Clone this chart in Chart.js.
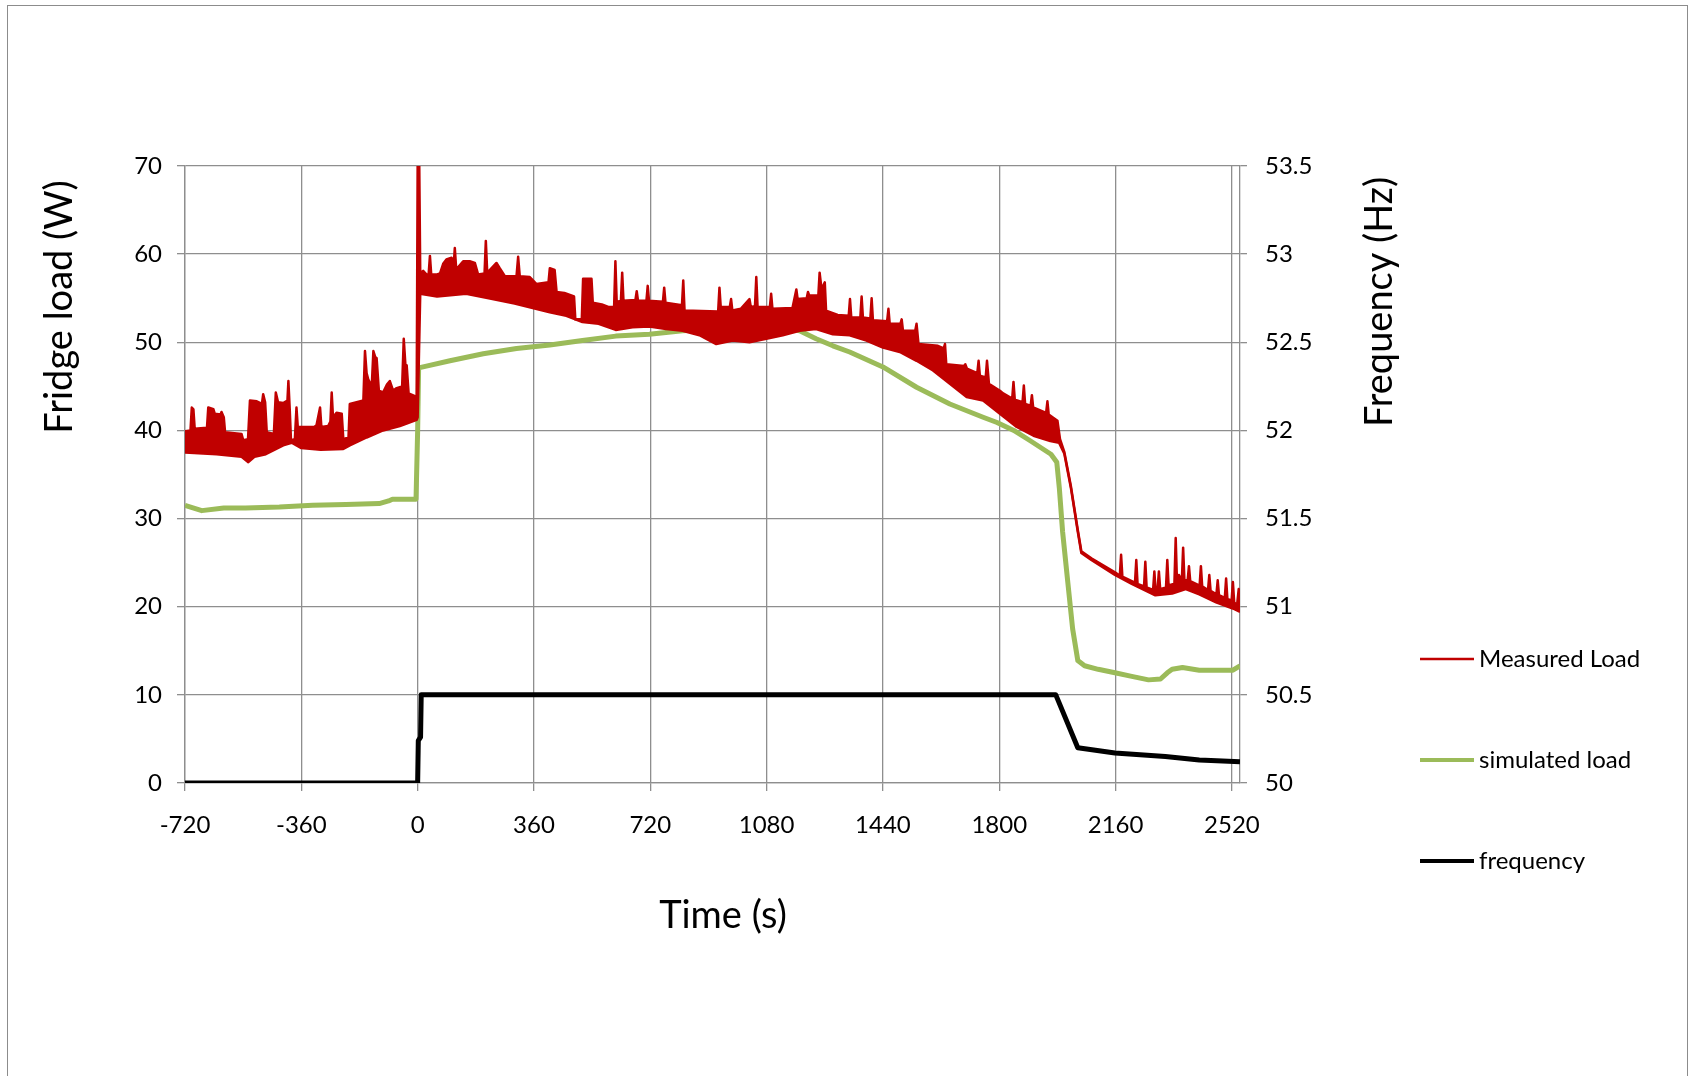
<!DOCTYPE html>
<html>
<head>
<meta charset="utf-8">
<title>Fridge load and frequency</title>
<script src="https://cdn.jsdelivr.net/npm/chart.js@4.4.1/dist/chart.umd.min.js"></script>
<style>
  html, body { margin: 0; padding: 0; background: #fff; }
  canvas { display: block; }
</style>
</head>
<body>
<canvas id="fridgeChart" width="1692" height="1076"></canvas>
<script>
// Axis ticks
const timeTicks = [-720, -360, 0, 360, 720, 1080, 1440, 1800, 2160, 2520];
const loadTicks = [0, 10, 20, 30, 40, 50, 60, 70];
const freqTicks = [50, 50.5, 51, 51.5, 52, 52.5, 53, 53.5];

const xTitle = 'Time (s)';
const yTitle = 'Fridge load (W)';
const y1Title = 'Frequency (Hz)';

// Measured load: top of the noisy band (with spikes), [time s, W]
const measuredUpper = [
  [-720, 39.9], [-703, 40.0], [-699, 42.6], [-694, 42.4], [-690, 40.2], [-652, 40.3], [-648, 42.6],
  [-632, 42.4], [-628, 41.9], [-610, 41.8], [-607, 42.1], [-600, 41.5], [-596, 39.8], [-545, 39.6],
  [-540, 38.9], [-525, 39.0], [-519, 43.4], [-498, 43.3], [-482, 43.0], [-478, 44.1], [-472, 43.2],
  [-467, 39.8], [-445, 39.6], [-439, 44.3], [-432, 43.2], [-416, 43.1], [-403, 43.4], [-400, 45.6],
  [-396, 42.5], [-392, 38.9], [-380, 39.0], [-375, 42.6], [-371, 40.4], [-320, 40.4], [-313, 40.6],
  [-302, 42.6], [-298, 40.4], [-277, 40.5], [-270, 41.0], [-266, 44.3], [-262, 41.5], [-251, 42.0],
  [-235, 41.9], [-230, 39.0], [-214, 39.2], [-210, 43.0], [-168, 43.4], [-163, 49.0], [-158, 46.5],
  [-153, 45.8], [-142, 45.0], [-137, 49.0], [-131, 48.3], [-127, 48.2], [-120, 44.5], [-107, 44.3],
  [-95, 45.2], [-86, 45.6], [-76, 44.5], [-65, 44.8], [-48, 45.0], [-43, 50.4], [-38, 47.5],
  [-34, 47.4], [-28, 44.2], [-3, 43.8], [0, 70], [5, 70], [8, 57.8],
  [17, 58.1], [27, 57.7], [34, 57.7], [38, 59.8], [42, 57.7], [60, 57.7], [69, 57.8], [79, 58.9],
  [89, 59.4], [105, 59.6], [112, 59.0], [115, 60.7], [119, 58.5], [125, 58.5], [141, 59.2],
  [161, 59.2], [177, 59.0], [187, 57.7], [207, 57.8], [211, 61.5], [215, 58.2], [218, 58.0],
  [244, 59.0], [254, 58.4], [270, 57.5], [306, 57.5], [311, 59.7], [316, 57.5], [347, 57.4],
  [368, 56.6], [405, 56.8], [409, 58.4], [424, 58.2], [430, 55.7], [454, 55.6], [484, 55.2],
  [488, 52.6], [508, 52.6], [512, 57.2], [538, 57.2], [542, 54.5], [570, 54.3], [590, 54.0],
  [608, 54.0], [612, 59.2], [616, 54.6], [629, 54.7], [633, 57.9], [637, 54.7], [674, 54.8],
  [678, 55.8], [682, 54.7], [708, 54.7], [712, 56.4], [716, 54.7], [759, 54.6], [763, 56.2],
  [767, 54.5], [818, 54.2], [822, 57.0], [826, 53.6], [930, 53.5], [934, 56.2], [938, 54.0],
  [966, 54.0], [970, 54.9], [974, 53.6], [1000, 53.8], [1027, 54.9], [1031, 54.0], [1044, 54.1],
  [1048, 57.4], [1052, 54.0], [1090, 54.0], [1094, 55.5], [1098, 53.8], [1160, 53.9], [1172, 56.0],
  [1176, 54.9], [1204, 55.0], [1208, 55.7], [1212, 55.3], [1240, 55.3], [1244, 57.9], [1250, 56.0],
  [1260, 56.8], [1264, 53.6], [1300, 53.1], [1334, 53.0], [1338, 54.9], [1342, 52.8], [1370, 52.8],
  [1374, 55.2], [1378, 52.8], [1401, 52.7], [1405, 55.0], [1409, 52.5], [1453, 52.4], [1457, 53.8],
  [1461, 52.1], [1494, 52.1], [1498, 52.6], [1502, 51.3], [1540, 51.3], [1544, 52.1], [1550, 49.8],
  [1610, 49.6], [1628, 49.3], [1632, 49.8], [1636, 47.5], [1691, 47.3], [1695, 47.5], [1700, 47.0],
  [1732, 46.5], [1736, 47.9], [1740, 46.2], [1758, 46.0], [1762, 47.9], [1768, 45.3], [1802, 44.5],
  [1812, 44.2], [1840, 43.6], [1844, 45.5], [1848, 43.5], [1872, 43.2], [1876, 45.1], [1880, 43.0],
  [1897, 42.8], [1901, 44.0], [1905, 42.6], [1945, 42.0], [1949, 43.3], [1953, 41.8], [1980, 41.1],
  [1988, 39.0], [2001, 37.6], [2022, 33.6], [2043, 28.7], [2054, 26.3], [2085, 25.5], [2158, 23.9],
  [2173, 23.5], [2177, 25.9], [2181, 23.4], [2210, 22.9], [2220, 22.7], [2224, 25.3], [2228, 22.6],
  [2248, 22.3], [2252, 25.1], [2256, 22.2], [2276, 21.9], [2280, 24.0], [2284, 21.7], [2290, 22.0],
  [2294, 24.0], [2298, 22.0], [2316, 22.2], [2320, 25.3], [2324, 22.4], [2342, 22.6], [2346, 27.8],
  [2350, 22.8], [2356, 23.6], [2365, 22.9], [2369, 26.7], [2373, 23.0], [2383, 23.0], [2387, 24.6],
  [2391, 22.9], [2420, 22.4], [2424, 24.6], [2428, 22.3], [2446, 21.9], [2450, 23.6], [2454, 21.8],
  [2472, 21.4], [2476, 23.0], [2480, 21.3], [2498, 21.0], [2502, 23.2], [2506, 20.9], [2519, 20.7],
  [2523, 22.8], [2527, 20.5], [2536, 20.2], [2541, 22.0], [2545, 19.9]
];

// Measured load: bottom of the noisy band, [time s, W]
const measuredLower = [
  [-720, 37.5], [-622, 37.3], [-545, 37.0], [-524, 36.4], [-505, 37.0], [-470, 37.3], [-416, 38.3],
  [-390, 38.6], [-360, 38.0], [-300, 37.8], [-230, 37.9], [-210, 38.3], [-158, 39.2], [-107, 40.0],
  [-55, 40.5], [-3, 41.2], [0, 41.5], [8, 55.5], [60, 55.2], [150, 55.5], [220, 55.0], [300, 54.4],
  [409, 53.4], [460, 53.0], [510, 52.3], [560, 52.1], [613, 51.4], [665, 51.7], [717, 51.8],
  [769, 51.5], [820, 51.3], [872, 50.8], [924, 49.8], [975, 50.2], [1027, 50.0], [1079, 50.4],
  [1130, 50.8], [1182, 51.3], [1233, 51.5], [1285, 50.9], [1337, 50.8], [1389, 50.2], [1440, 49.4],
  [1492, 48.9], [1544, 47.9], [1595, 46.8], [1647, 45.3], [1699, 43.8], [1750, 43.4], [1802, 41.9],
  [1854, 40.4], [1906, 39.4], [1958, 38.8], [1985, 38.6], [2001, 37.4], [2022, 33.4], [2043, 28.5],
  [2054, 26.1], [2085, 25.3], [2158, 23.6], [2210, 22.6], [2283, 21.3], [2335, 21.5], [2377, 22.0],
  [2419, 21.4], [2471, 20.5], [2523, 19.8], [2545, 19.4]
];

// Simulated load, [time s, W]
const simulatedLoad = [
  [-720, 31.5], [-668, 30.9], [-600, 31.2], [-533, 31.2], [-428, 31.3], [-325, 31.5], [-222, 31.6],
  [-119, 31.7], [-90, 32.0], [-78, 32.2], [-5, 32.2], [0, 40.0], [3, 47.1], [27, 47.3], [100, 47.9],
  [203, 48.7], [306, 49.3], [409, 49.7], [510, 50.2], [613, 50.7], [717, 50.9], [820, 51.3],
  [924, 51.5], [1027, 51.8], [1130, 51.7], [1182, 51.3], [1233, 50.4], [1285, 49.6], [1337, 48.9],
  [1440, 47.2], [1544, 44.9], [1647, 43.0], [1750, 41.5], [1793, 40.9], [1845, 40.0], [1897, 38.8],
  [1960, 37.3], [1978, 36.4], [1986, 33.4], [1996, 28.5], [2012, 22.8], [2027, 17.5], [2043, 13.9],
  [2064, 13.3], [2106, 12.9], [2158, 12.5], [2210, 12.1], [2262, 11.7], [2299, 11.8], [2320, 12.5],
  [2335, 12.9], [2367, 13.1], [2419, 12.8], [2471, 12.8], [2523, 12.8], [2545, 13.3]
];

// Grid frequency, [time s, Hz]
const frequency = [
  [-720, 50], [0, 50], [2, 50.24], [9, 50.26], [11, 50.5], [1975, 50.5], [2043, 50.2],
  [2158, 50.17], [2314, 50.15], [2419, 50.13], [2545, 50.12]
];

const toPoints = arr => arr.map(([x, y]) => ({ x, y }));

const fontFamily = 'Lato, "Open Sans", sans-serif';
const gridColor = '#8e8e8e';
const red = '#C00000';
const green = '#9BBB59';

// titles, legend and outer frame drawn straight on the canvas
const decorPlugin = {
    id: 'decor',
    beforeDraw(chart) {
        const ctx = chart.ctx;
        ctx.save();
        ctx.fillStyle = '#fff';
        ctx.fillRect(0, 0, chart.width, chart.height);
        ctx.strokeStyle = '#8c8c8c';
        ctx.lineWidth = 1;
        ctx.strokeRect(7.5, 5.5, 1680, 1100);
        ctx.restore();
    },
    afterDraw(chart) {
        const ctx = chart.ctx;
        ctx.save();
        ctx.fillStyle = '#000';
        ctx.font = `38px ${fontFamily}`;
        ctx.textAlign = 'center';
        ctx.textBaseline = 'alphabetic';
        ctx.fillText(xTitle, 723, 928);

        ctx.save();
        ctx.translate(72, 307);
        ctx.rotate(-Math.PI / 2);
        ctx.fillText(yTitle, 0, 0);
        ctx.restore();

        ctx.save();
        ctx.translate(1392, 302);
        ctx.rotate(-Math.PI / 2);
        ctx.fillText(y1Title, 0, 0);
        ctx.restore();

        // legend
        ctx.font = `24px ${fontFamily}`;
        ctx.textAlign = 'left';
        let rowY = 659;
        chart.data.datasets.filter(d => d.showInLegend).forEach(d => {
            ctx.strokeStyle = d.borderColor;
            ctx.lineWidth = Math.min(d.borderWidth, 4);
            ctx.beginPath();
            ctx.moveTo(1420, rowY);
            ctx.lineTo(1474, rowY);
            ctx.stroke();
            ctx.fillText(d.label, 1479, rowY + 8);
            rowY += 101;
        });
        ctx.restore();
    }
};

const tickFont = { family: fontFamily, size: 24 };
const plainNumber = v => String(v);

const ctx = document.getElementById('fridgeChart').getContext('2d');
const fridgeChart = new Chart(ctx, {
    type: 'line',
    data: {
        datasets: [{
                label: 'Measured Load (band bottom)',
                data: toPoints(measuredLower),
                borderColor: red,
                borderWidth: 2.5,
                fill: false,
                yAxisID: 'y'
            },
            {
                label: 'Measured Load',
                showInLegend: true,
                data: toPoints(measuredUpper),
                borderColor: red,
                backgroundColor: red,
                borderWidth: 2.5,
                fill: '-1',
                yAxisID: 'y'
            },
            {
                label: 'simulated load',
                showInLegend: true,
                data: toPoints(simulatedLoad),
                borderColor: green,
                borderWidth: 5,
                fill: false,
                yAxisID: 'y'
            },
            {
                label: 'frequency',
                showInLegend: true,
                data: toPoints(frequency),
                borderColor: '#000',
                borderWidth: 5,
                fill: false,
                yAxisID: 'y1'
            }
        ]
    },
    options: {
        responsive: false,
        animation: false,
        events: [],
        elements: {
            point: { radius: 0 },
            line: { tension: 0, borderJoinStyle: 'round' }
        },
        layout: {
            padding: { left: 0, top: 166, right: 352, bottom: 213 }
        },
        plugins: {
            legend: { display: false },
            title: { display: false },
            tooltip: { enabled: false }
        },
        scales: {
            x: {
                type: 'linear',
                min: -720,
                max: 2545,
                afterBuildTicks: s => { s.ticks = timeTicks.map(v => ({ value: v })); },
                afterFit: s => { s.height = 80; },
                grid: { color: gridColor, lineWidth: 1.3, tickLength: 8 },
                border: { color: gridColor, width: 1.3 },
                ticks: { font: tickFont, color: '#000', padding: 20, maxRotation: 0, autoSkip: false, callback: plainNumber }
            },
            y: {
                position: 'left',
                min: 0,
                max: 70,
                afterBuildTicks: s => { s.ticks = loadTicks.map(v => ({ value: v })); },
                afterFit: s => { s.width = 185; },
                grid: { color: gridColor, lineWidth: 1.3, tickLength: 8 },
                border: { color: gridColor, width: 1.3 },
                ticks: { font: tickFont, color: '#000', padding: 15, callback: plainNumber }
            },
            y1: {
                position: 'right',
                min: 50,
                max: 53.5,
                afterBuildTicks: s => { s.ticks = freqTicks.map(v => ({ value: v })); },
                afterFit: s => { s.width = 100; },
                grid: { drawOnChartArea: false, color: gridColor, lineWidth: 1.3, tickLength: 7 },
                border: { color: gridColor, width: 1.3 },
                ticks: { font: tickFont, color: '#000', padding: 18, callback: plainNumber }
            }
        }
    },
    plugins: [decorPlugin]
});
</script>
</body>
</html>
